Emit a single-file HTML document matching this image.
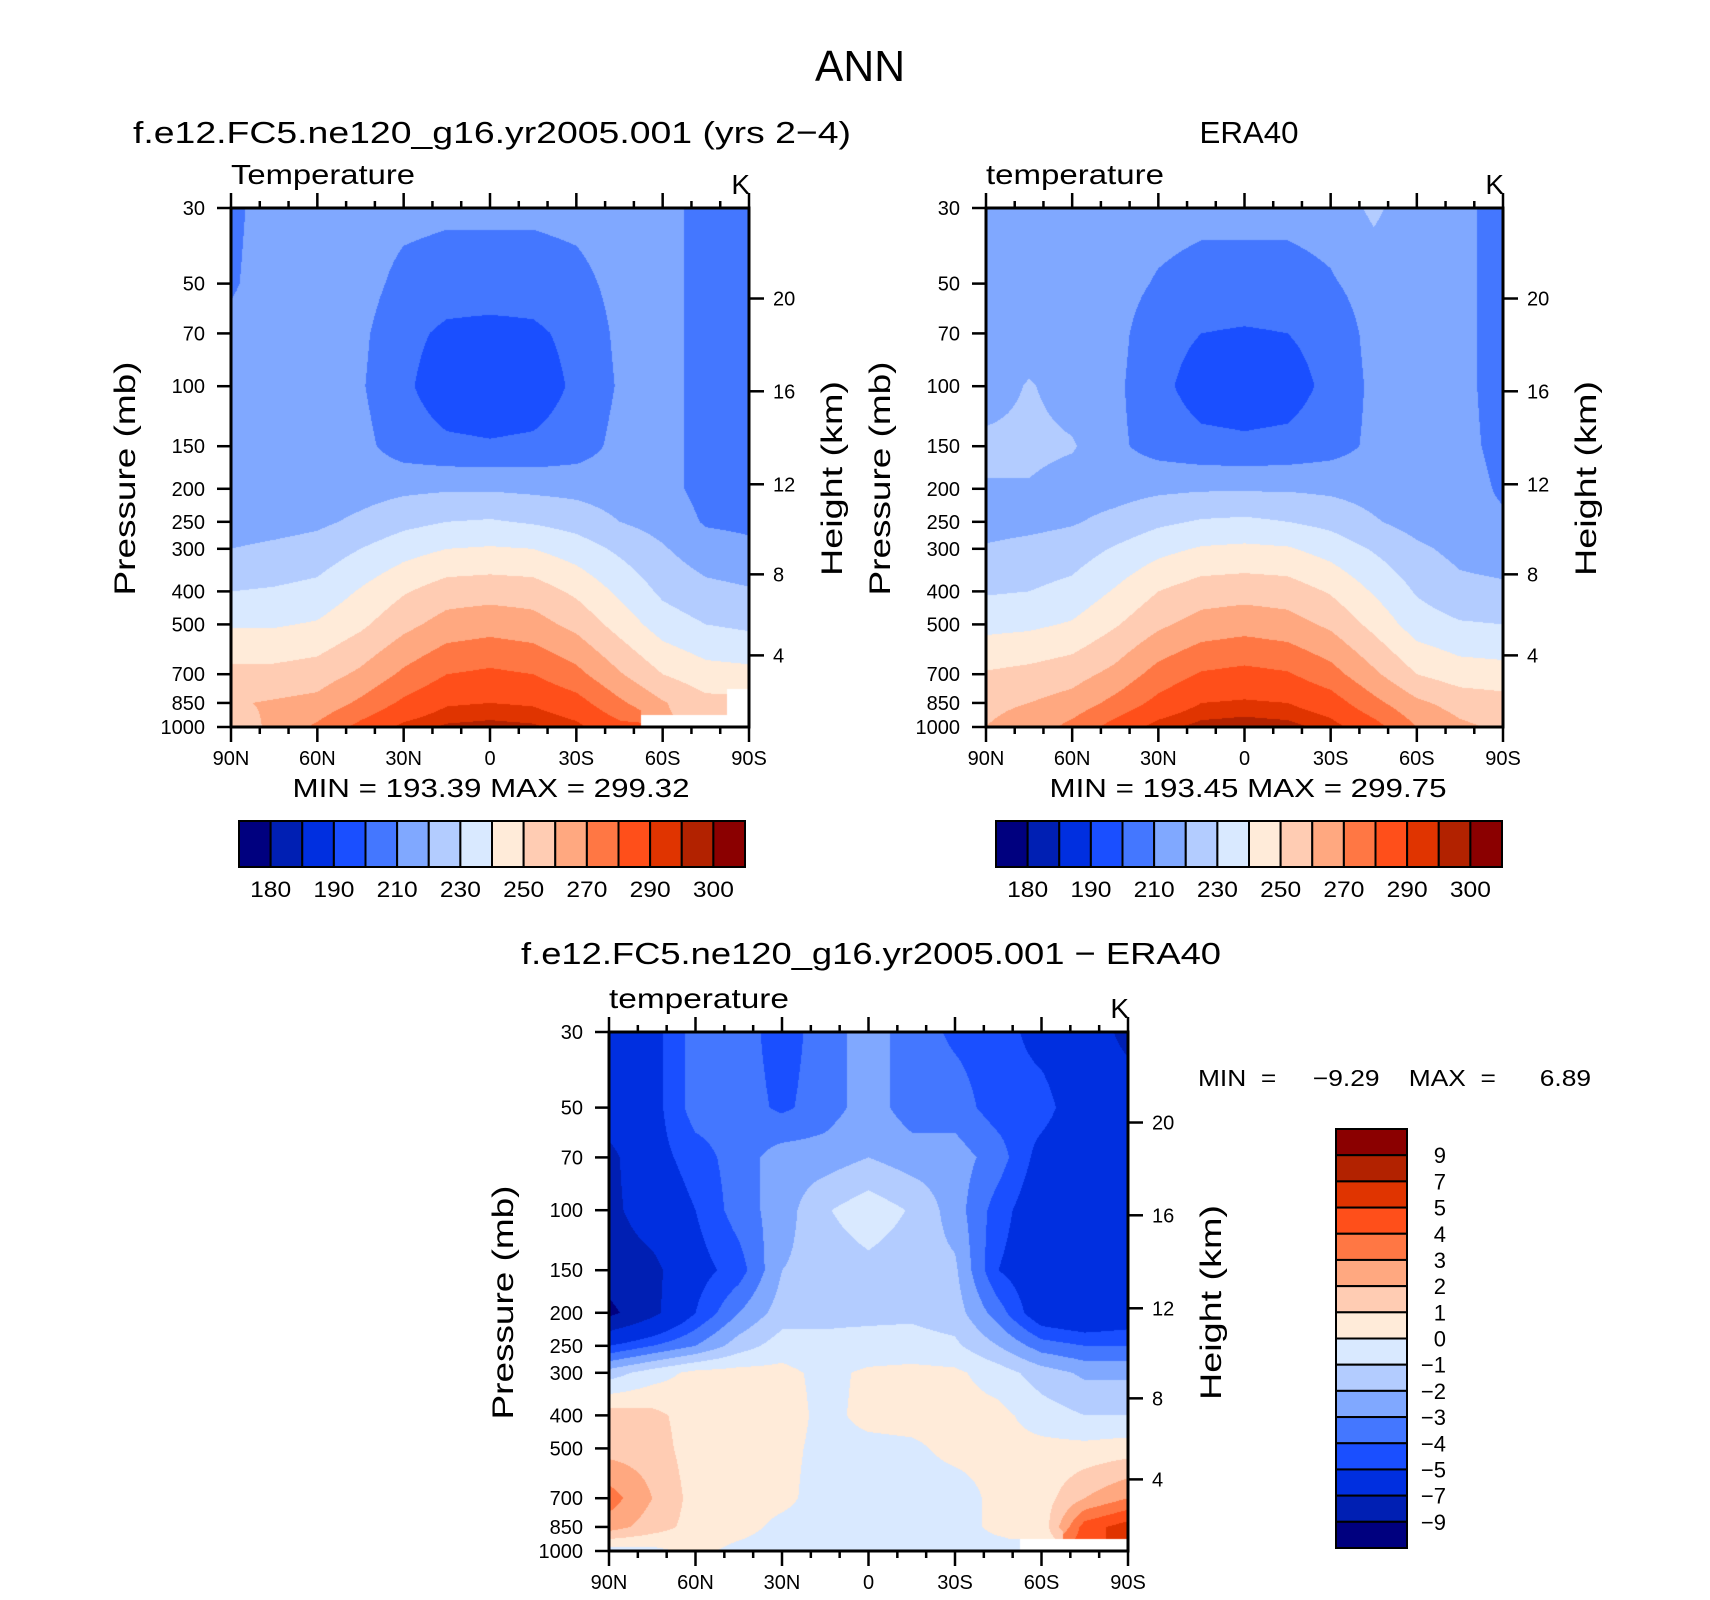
<!DOCTYPE html>
<html><head><meta charset="utf-8">
<style>
html,body{margin:0;padding:0;background:#fff;}
#wrap{position:relative;width:1710px;height:1600px;overflow:hidden;background:#fff;}
canvas{position:absolute;}
svg{position:absolute;left:0;top:0;}
text{font-family:"Liberation Sans",sans-serif;fill:#000;}
</style></head>
<body>
<div id="wrap">
<canvas id="c1"></canvas>
<canvas id="c2"></canvas>
<canvas id="c3"></canvas>
<svg id="svg" width="1710" height="1600"></svg>
</div>
<script>
// ---- data ----
const lats = [90,75,60,45,30,15,0,-15,-30,-45,-60,-75,-90];
const plevs = [30,50,70,100,150,200,250,300,400,500,700,850,1000];
const N = NaN;
const modelT = [
 [208,214,215,215,213,212,212,212,213,215,213,207,206],
 [209,214,215,214,207,205,205,205,207,213,213,207,206],
 [212,214,215,212,203,198,197,198,203,212,213,207,206],
 [212,214,215,211,202,194,193,194,202,211,213,207,206],
 [212,214,215,213,205,202,201,202,205,213,213,207,206],
 [213,214,215,216,218,219,219,218,217,215,213,207,206],
 [215,216,218,222,227,230,231,229,226,220,216,209,208],
 [220,222,224,230,236,240,241,240,235,228,221,214,212],
 [230,231,233,241,249,255,256,255,248,238,228,223,221],
 [239,239,241,248,257,264,266,264,257,246,235,230,228],
 [253,253,255,262,272,280,282,280,273,261,250,244,243],
 [259,261,263,272,282,289,290,289,284,272,261,253,N],
 [255,262,272,283,292,296,297,296,292,283,N,N,N]
];
const eraT = [
 [211,214,215,215,214,213,213,213,214,222,214,212,207],
 [211,214,215,214,209,206,206,206,209,214,214,212,207],
 [212,214,215,213,204,200,199,200,204,213,214,212,207],
 [214,221,215,212,203,195,194,195,203,212,214,212,207],
 [223,223,221,212,206,203,202,203,206,212,214,212,208],
 [219,219,215,216,218,219,219,219,218,216,214,213,209],
 [216,217,219,223,228,231,232,230,227,221,216,212,211],
 [221,223,225,231,237,241,242,241,236,229,222,217,215],
 [229,230,233,241,250,255,256,255,249,239,229,223,222],
 [237,238,241,249,258,264,266,264,258,247,235,231,230],
 [251,253,256,263,274,281,283,281,274,262,250,245,244],
 [258,260,264,273,283,290,291,290,285,273,262,256,254],
 [260,264,273,284,293,297,298,297,293,284,270,262,258]
];
const diffT = [
 [-6,-5.5,-3.5,-3.5,-4.5,-3.5,-2.5,-3.5,-4.2,-4.5,-5.5,-6,-7.5],
 [-6,-5.5,-3.5,-3.5,-4.2,-3.5,-2.5,-3.5,-3.5,-4.5,-4.5,-6,-6],
 [-7.5,-5.5,-4.5,-3.5,-2.5,-2.5,-2,-2.5,-2.5,-3.5,-5.5,-6,-6],
 [-7.5,-6,-5,-3.5,-2.5,-1.1,-0.4,-1.1,-2.5,-4.5,-6,-6,-6],
 [-8,-7.5,-5.5,-4.5,-2,-1.6,-1.3,-1.6,-1.8,-5,-6,-6.5,-6],
 [-9.5,-7.5,-5,-3,-1.5,-1.2,-1.2,-1.2,-1.5,-3.5,-6,-6.5,-6],
 [-5,-4,-3,-1.5,-0.5,-0.8,-0.7,-0.6,-0.8,-2,-3.5,-4,-4],
 [-1.5,-0.5,0.3,0.4,0.3,-0.3,0.2,0.3,0.2,-0.5,-1.5,-2.2,-2.2],
 [1.5,1.3,0.5,0.5,0.5,-0.3,0.3,0.4,0.4,0.3,-0.5,-1,-1],
 [1.6,1.5,0.5,0.4,0.3,-0.3,-0.3,-0.2,0.3,0.3,0.3,0.3,0.5],
 [3.5,2,0.6,0.5,0.3,-0.5,-0.5,-0.5,-0.5,0.3,0.5,2,3],
 [2.5,1.5,0.6,0.4,-0.3,-0.5,-0.5,-0.5,-0.5,0.3,0.3,4.5,5.5],
 [-0.5,-0.3,0.3,-0.3,-0.5,-0.5,-0.5,-0.5,-0.5,-0.5,N,N,N]
];
const tempLevels = [180,185,190,200,210,220,230,240,250,260,270,280,290,295,300];
const tempLabelLevels = [180,190,210,230,250,270,290,300];
const diffLevels = [-9,-7,-5,-4,-3,-2,-1,0,1,2,3,4,5,7,9];
const colors = ['#00007F','#001FB3','#002FE0','#1A4FFF','#4477FF','#80A8FF','#B3CCFF','#D9E9FF','#FFEBD9','#FFCCB3','#FFA880','#FF7744','#FF4F1A','#E03400','#B22200','#8B0000'];
const pTicks = [30,50,70,100,150,200,250,300,400,500,700,850,1000];
const hTicks = [4,8,12,16,20];
const hPress = {4:616.4,8:356.5,12:194.0,16:103.5,20:55.3};
const xTickLabels = ['90N','60N','30N','0','30S','60S','90S'];
const xTickVals = [90,60,30,0,-30,-60,-90];

const NS='http://www.w3.org/2000/svg';
const svg=document.getElementById('svg');
function el(tag,attrs,parent){const e=document.createElementNS(NS,tag);for(const k in attrs)e.setAttribute(k,attrs[k]);(parent||svg).appendChild(e);return e;}
function txt(s,x,y,size,anchor,parent,rot,len){const t=el('text',{x:x,y:y,'font-size':size,'text-anchor':anchor||'start'},parent);if(len){t.setAttribute('textLength',len);t.setAttribute('lengthAdjust','spacingAndGlyphs');}if(rot)t.setAttribute('transform','rotate(-90 '+x+' '+y+')');t.textContent=s;return t;}

function makeAxes(P){
  P.xs=lat=>P.x0+(90-lat)/180*(P.x1-P.x0);
  P.ys=p=>P.y0+(Math.log10(p)-Math.log10(30))/(Math.log10(1000)-Math.log10(30))*(P.y1-P.y0);
}
function levelIndex(v,levels){let i=0;while(i<levels.length&&v>=levels[i])i++;return i;}
function hexRGB(h){return [parseInt(h.substr(1,2),16),parseInt(h.substr(3,2),16),parseInt(h.substr(5,2),16)];}
const rgb=colors.map(hexRGB);

function drawField(cid,P,grid,levels){
  const c=document.getElementById(cid);
  const W=P.x1-P.x0,H=P.y1-P.y0;
  c.width=W;c.height=H;c.style.left=P.x0+'px';c.style.top=P.y0+'px';
  const ctx=c.getContext('2d');const img=ctx.createImageData(W,H);
  const lp=plevs.map(p=>Math.log10(p));
  for(let py=0;py<H;py++){
    const logp=Math.log10(30)+(py+0.5)/H*(Math.log10(1000)-Math.log10(30));
    let j=0;while(j<lp.length-2&&logp>lp[j+1])j++;
    const ty=Math.min(1,Math.max(0,(logp-lp[j])/(lp[j+1]-lp[j])));
    for(let px=0;px<W;px++){
      const lat=90-(px+0.5)/W*180;
      let i=0;while(i<lats.length-2&&lat<lats[i+1])i++;
      const tx=Math.min(1,Math.max(0,(lats[i]-lat)/(lats[i]-lats[i+1])));
      const a=grid[j][i],b=grid[j][i+1],cc=grid[j+1][i],d=grid[j+1][i+1];
      const near=grid[j+(ty>0.5?1:0)][i+(tx>0.5?1:0)];
      const k=(py*W+px)*4;
      if(isNaN(near)){img.data[k]=255;img.data[k+1]=255;img.data[k+2]=255;img.data[k+3]=255;continue;}
      const f=v=>isNaN(v)?near:v;
      const v=(1-ty)*((1-tx)*f(a)+tx*f(b))+ty*((1-tx)*f(cc)+tx*f(d));
      const col=rgb[levelIndex(v,levels)];
      img.data[k]=col[0];img.data[k+1]=col[1];img.data[k+2]=col[2];img.data[k+3]=255;
    }
  }
  ctx.putImageData(img,0,0);
}

function drawFrame(P,name,leftTitle,titleLen){
  const g=el('g',{});
  
  
  el('rect',{x:P.x0,y:P.y0,width:P.x1-P.x0,height:P.y1-P.y0,fill:'none',stroke:'#000','stroke-width':3},g);
  for(let lat=90;lat>=-90;lat-=10){
    const x=P.xs(lat);const major=lat%30===0;const L=major?15:7;
    el('line',{x1:x,x2:x,y1:P.y1,y2:P.y1+L,stroke:'#000','stroke-width':2.5},g);
    el('line',{x1:x,x2:x,y1:P.y0,y2:P.y0-L,stroke:'#000','stroke-width':2.5},g);
  }
  xTickVals.forEach((v,i)=>{const t=txt(xTickLabels[i],P.xs(v),P.y1+38,20,'middle',g);});
  pTicks.forEach(p=>{const y=P.ys(p);
    el('line',{x1:P.x0-14,x2:P.x0,y1:y,y2:y,stroke:'#000','stroke-width':2.5},g);
    const t=txt(String(p),P.x0-26,y+7,20,'end',g);});
  hTicks.forEach(h=>{const y=P.ys(hPress[h]);
    el('line',{x1:P.x1,x2:P.x1+15,y1:y,y2:y,stroke:'#000','stroke-width':2.5},g);
    const t=txt(String(h),P.x1+24,y+7,20,'start',g);});
  const cy=(P.y0+P.y1)/2;
  const pl=txt('Pressure  (mb)',P.x0-96,cy+11,30,'middle',g,true,234);
  
  const hl=txt('Height  (km)',P.x1+93,cy+11,30,'middle',g,true,195);
  
  const lt=txt(leftTitle,P.x0,P.y0-24,28,'start',g,false,titleLen);
  
  const kt=txt('K',P.x1+1,P.y0-14,28,'end',g);
  
}

function hColorbar(x0,x1,y0,y1,levels,labelLevels,name){
  const g=el('g',{});
  
  
  const n=colors.length,w=(x1-x0)/n;
  colors.forEach((c,i)=>{const r=el('rect',{x:x0+i*w,y:y0,width:w,height:y1-y0,fill:c,stroke:'#000','stroke-width':2},g);});
  labelLevels.forEach(v=>{const i=levels.indexOf(v)+1;const t=txt(String(v),x0+i*w,y1+30,22,'middle',g,false,41);});
}
function vColorbar(x0,x1,y0,y1,levels,name){
  const g=el('g',{});
  
  
  const n=colors.length,h=(y1-y0)/n;
  colors.slice().reverse().forEach((c,i)=>{const r=el('rect',{x:x0,y:y0+i*h,width:x1-x0,height:h,fill:c,stroke:'#000','stroke-width':2},g);});
  levels.slice().reverse().forEach((v,i)=>{const s=v<0?'\u2212'+Math.abs(v):String(v);const t=txt(s,x1+39,y0+(i+1)*h+8,22,'end',g);});
}

const P1={x0:231,x1:749,y0:208,y1:727};makeAxes(P1);
const P2={x0:986,x1:1503,y0:208,y1:727};makeAxes(P2);
const P3={x0:609,x1:1128,y0:1032,y1:1551};makeAxes(P3);
drawField('c1',P1,modelT,tempLevels);
drawField('c2',P2,eraT,tempLevels);
drawField('c3',P3,diffT,diffLevels);
drawFrame(P1,'model-plot','Temperature',184);
drawFrame(P2,'era40-plot','temperature',178);
drawFrame(P3,'difference-plot','temperature',180);

let t;
t=txt('ANN',860,81,44,'middle',null,false,90);
t=txt('f.e12.FC5.ne120_g16.yr2005.001  (yrs  2\u22124)',492,143,31,'middle',null,false,718);
t=txt('ERA40',1249,143,31,'middle',null,false,99);
t=txt('f.e12.FC5.ne120_g16.yr2005.001  \u2212  ERA40',871,964,31,'middle',null,false,700);
t=txt('MIN  =  193.39    MAX  =  299.32',491,797,26,'middle',null,false,397);
t=txt('MIN  =  193.45    MAX  =  299.75',1248,797,26,'middle',null,false,397);
t=txt('MIN  =     \u22129.29    MAX  =      6.89',1198,1086,23,'start',null,false,393);
t.style.whiteSpace='pre';

hColorbar(239,745,821,867,tempLevels,tempLabelLevels,'model-colorbar');
hColorbar(996,1502,821,867,tempLevels,tempLabelLevels,'era40-colorbar');
vColorbar(1336,1407,1129,1548,diffLevels,'difference-colorbar');
</script>
</body></html>
